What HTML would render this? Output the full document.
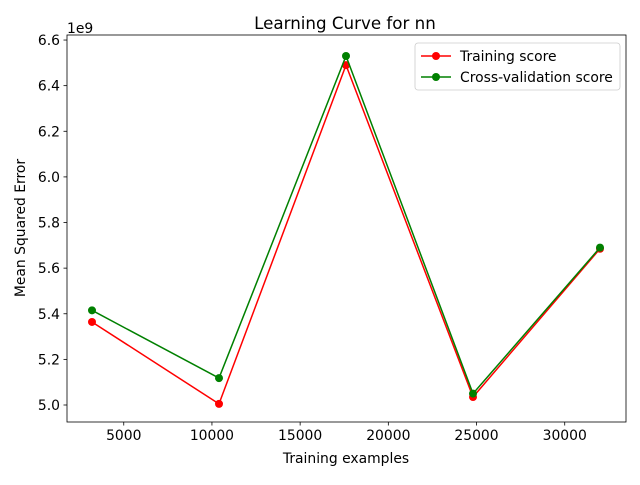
<!DOCTYPE html>
<html><head><meta charset="utf-8"><style>
body{margin:0;background:#fff;font-family:"Liberation Sans","DejaVu Sans",sans-serif}
svg text{font-family:"DejaVu Sans","Liberation Sans",sans-serif;font-size:13.9px;fill:#000}
</style></head><body>
<svg id="chart" width="640" height="480">
<text x="345" y="29" text-anchor="middle" style="font-size:16.7px">Learning Curve for nn</text>
<rect x="67" y="35" width="559" height="387" fill="none" stroke="#000" stroke-width="0.8"/>
<g id="xt"></g><g id="yt"></g><g id="series"></g>
<text x="67" y="33">1e9</text>
<text x="346" y="463" text-anchor="middle">Training examples</text>
<text x="25" y="228" text-anchor="middle" transform="rotate(-90 25 228)">Mean Squared Error</text>
<g>
<rect x="415" y="43" width="205" height="47" rx="3" fill="#fff" stroke="#ccc" stroke-width="0.8"/>
<g><line x1="421" y1="56" x2="451" y2="56" stroke="red" stroke-width="1.5"/><circle cx="436" cy="56" r="4" fill="red"/><text x="460" y="61">Training score</text></g>
<g><line x1="421" y1="77" x2="451" y2="77" stroke="green" stroke-width="1.5"/><circle cx="436" cy="77" r="4" fill="green"/><text x="460" y="82">Cross-validation score</text></g>
</g>
</svg>
<script>
const trainSizes=[3200,10400,17600,24800,32000];
const trainScores=[5.364,5.005,6.49,5.035,5.685];
const cvScores=[5.415,5.118,6.53,5.05,5.69];
const xTicks=[5000,10000,15000,20000,25000,30000];
const yTicks=[5.0,5.2,5.4,5.6,5.8,6.0,6.2,6.4,6.6];
const NS="http://www.w3.org/2000/svg";
function X(v){return 92+(v-3200)*(508/28800);}
function Y(v){return 405-(v-5.0)*228.1;}
function mk(t,a,p){const e=document.createElementNS(NS,t);for(const k in a)e.setAttribute(k,a[k]);p.appendChild(e);return e;}
const xt=document.getElementById('xt'),yt=document.getElementById('yt'),sg=document.getElementById('series');
xTicks.forEach(v=>{const g=mk('g',{},xt);


mk('line',{x1:X(v),x2:X(v),y1:422,y2:425.5,stroke:'#000','stroke-width':0.8},g);
const t=mk('text',{x:X(v),y:440,'text-anchor':'middle'},g);t.textContent=v;});
yTicks.forEach(v=>{const g=mk('g',{},yt);


mk('line',{x1:63.5,x2:67,y1:Y(v),y2:Y(v),stroke:'#000','stroke-width':0.8},g);
const t=mk('text',{x:60,y:Y(v)+5,'text-anchor':'end'},g);t.textContent=v.toFixed(1);});
function series(vals,color,name){const g=mk('g',{},sg);


mk('polyline',{points:vals.map((v,i)=>X(trainSizes[i])+','+Y(v)).join(' '),fill:'none',stroke:color,'stroke-width':1.5},g);
vals.forEach((v,i)=>{const c=mk('circle',{cx:X(trainSizes[i]),cy:Y(v),r:4,fill:color},g);

});}
series(trainScores,'red','training-score-line');
series(cvScores,'green','cv-score-line');
</script>
</body></html>
